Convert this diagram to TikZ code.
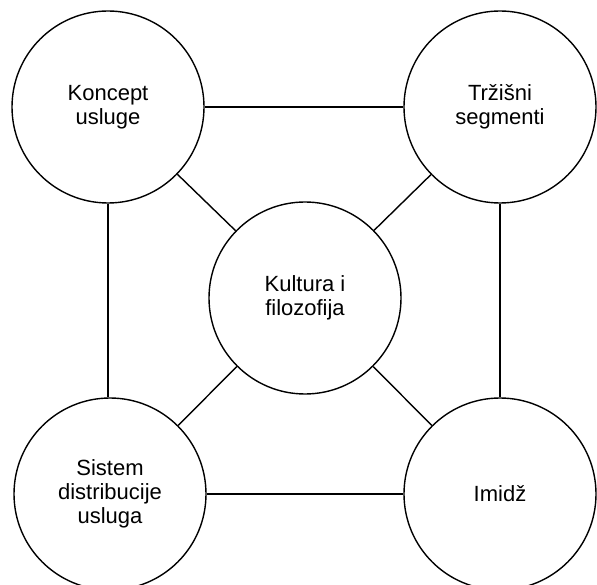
\documentclass[tikz,border=0pt]{standalone}
\usepackage{fontspec}
\setmainfont{Liberation Sans}
\begin{document}
\begin{tikzpicture}[x=1pt,y=-1pt,
  bubble/.style={circle,draw=black,line width=1.4pt,minimum size=192pt,inner sep=0pt,
    align=center,font=\fontsize{22}{24}\selectfont},
  link/.style={draw=black,line width=1.4pt}]
\useasboundingbox (0,0) rectangle (597,585);
\node[bubble] (tl) at (108,107) {Koncept\\usluge};
\node[bubble] (tr) at (500,107) {Tržišni\\segmenti};
\node[bubble] (c)  at (305,298) {Kultura i\\filozofija};
\node[bubble] (bl) at (110,494) {Sistem\\distribucije\\usluga};
\node[bubble] (br) at (500,494) {Imidž};
\path[link] (tl) -- (tr);
\path[link] (tl) -- (tl |- bl.north);
\path[link] (tr) -- (br);
\path[link] (bl) -- (br);
\path[link] (c) -- (tl);
\path[link] (c) -- (tr);
\path[link] (c) -- (bl);
\path[link] (c) -- (br);
\end{tikzpicture}
\end{document}
